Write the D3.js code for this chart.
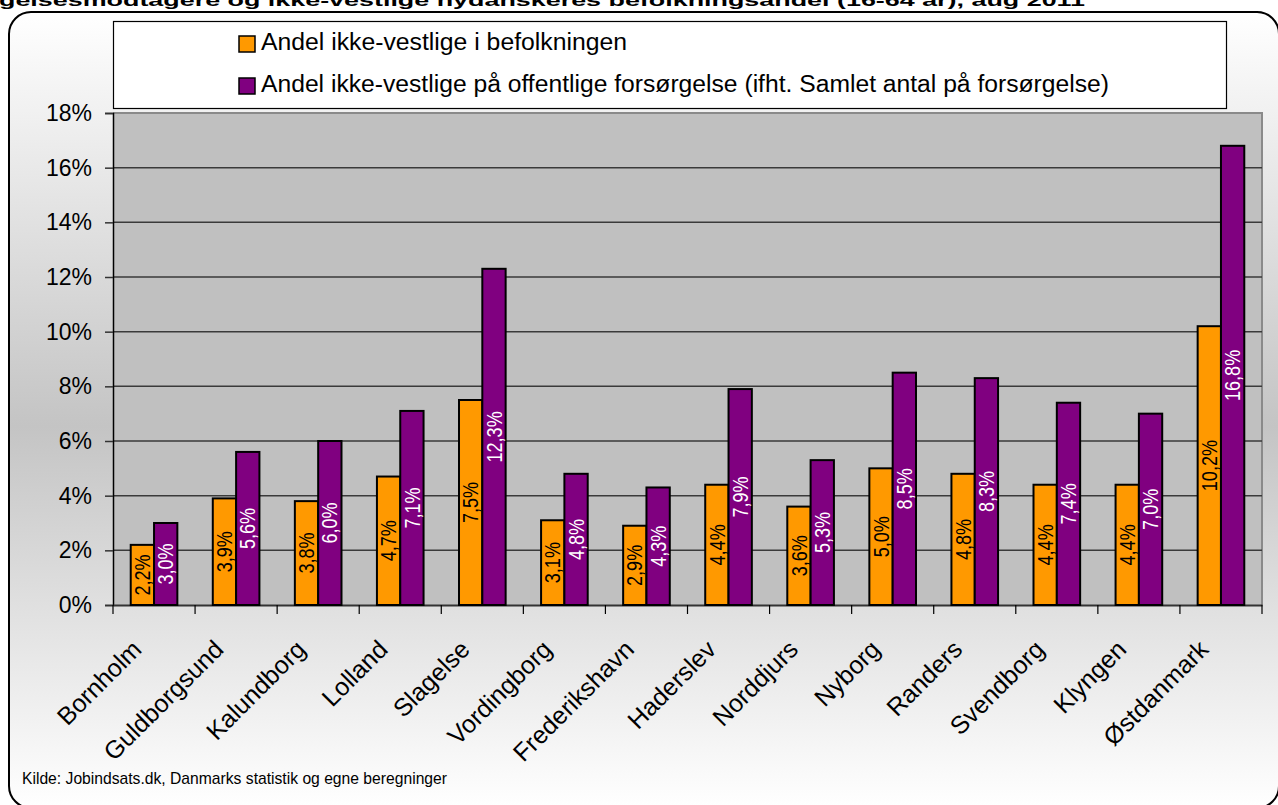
<!DOCTYPE html>
<html>
<head>
<meta charset="utf-8">
<script src="https://cdn.jsdelivr.net/npm/d3@7"></script>
<style>
  body { margin:0; background:#fff; }
  svg { display:block; font-family:"Liberation Sans", Arial, sans-serif; }
</style>
</head>
<body>
<svg id="chart" width="1278" height="805"></svg>
<script>
const categories = ['Bornholm','Guldborgsund','Kalundborg','Lolland','Slagelse','Vordingborg','Frederikshavn','Haderslev','Norddjurs','Nyborg','Randers','Svendborg','Klyngen','Østdanmark'];
const befolkning = [2.2,3.9,3.8,4.7,7.5,3.1,2.9,4.4,3.6,5.0,4.8,4.4,4.4,10.2];
const forsorgelse = [3.0,5.6,6.0,7.1,12.3,4.8,4.3,7.9,5.3,8.5,8.3,7.4,7.0,16.8];
const seriesNames = ['Andel ikke-vestlige i befolkningen','Andel ikke-vestlige på offentlige forsørgelse (ifht. Samlet antal på forsørgelse)'];
const yTicks = [0,2,4,6,8,10,12,14,16,18];
const titleText = 'gelsesmodtagere og ikke-vestlige nydanskeres befolkningsandel (16-64 år), aug 2011';
const sourceText = 'Kilde: Jobindsats.dk, Danmarks statistik og egne beregninger';

const colors = ['#ff9900','#800080'];
const labelColors = ['#000','#fff'];

const svg = d3.select('#chart');
const plot = {left:113, right:1262, top:113, bottom:605};

// background gradient for the chart frame
const defs = svg.append('defs');
const grad = defs.append('linearGradient').attr('id','bg').attr('x1',0).attr('y1',0).attr('x2',0).attr('y2',1);
grad.append('stop').attr('offset','0%').attr('stop-color','#ffffff');
grad.append('stop').attr('offset','52%').attr('stop-color','#c4c4c4');
grad.append('stop').attr('offset','100%').attr('stop-color','#ffffff');

svg.append('rect')
  .attr('x',9).attr('y',12).attr('width',1270).attr('height',796)
  .attr('rx',22).attr('ry',22)
  .attr('fill','url(#bg)').attr('stroke','#000').attr('stroke-width',2);

// title (cut at the top edge, like the original)
svg.append('text')
  .attr('x',-1).attr('y',6)
  .attr('font-size',17).attr('font-weight','bold')
  .attr('textLength',1086).attr('lengthAdjust','spacingAndGlyphs')
  .text(titleText);

const x = d3.scaleBand().domain(categories).range([plot.left, plot.right]).padding(0);
const xs = d3.scaleBand().domain([0,1]).range([0, x.bandwidth()]).paddingInner(0).paddingOuter(0.76);
const y = d3.scaleLinear().domain([0,18]).range([plot.bottom, plot.top]);

// plot area
svg.append('rect')
  .attr('x',plot.left).attr('y',plot.top)
  .attr('width',plot.right-plot.left).attr('height',plot.bottom-plot.top)
  .attr('fill','#c0c0c0');
svg.append('path')
  .attr('d',`M${plot.left},${plot.top}H${plot.right}V${plot.bottom}`)
  .attr('fill','none').attr('stroke','#8a8a8a').attr('stroke-width',2);

// gridlines
svg.append('g').selectAll('line')
  .data(yTicks.filter(d=>d>0 && d<18))
  .join('line')
  .attr('x1',plot.left).attr('x2',plot.right)
  .attr('y1',d=>y(d)).attr('y2',d=>y(d))
  .attr('stroke','#3a3a3a').attr('stroke-width',1.5);

// y axis
const yAxis = svg.append('g')
  .attr('transform',`translate(${plot.left},0)`)
  .call(d3.axisLeft(y).tickValues(yTicks).tickSize(8).tickPadding(13).tickFormat(d=>d+'%'));
yAxis.select('.domain').attr('stroke','#000').attr('stroke-width',1.5);
yAxis.selectAll('.tick line').attr('stroke','#333').attr('stroke-width',1.5);
yAxis.selectAll('.tick text')
  .attr('font-size',23).attr('font-family','"Liberation Sans", Arial, sans-serif').attr('fill','#000');

// x axis
const xAxis = svg.append('g')
  .attr('transform',`translate(0,${plot.bottom})`)
  .call(d3.axisBottom(x).tickSize(0).tickFormat(''));
xAxis.select('.domain').attr('stroke','#333').attr('stroke-width',2);
xAxis.selectAll('.tick').remove();
xAxis.selectAll('line.sep')
  .data(d3.range(categories.length+1))
  .join('line').attr('class','sep')
  .attr('x1',i=>plot.left + i*x.step()).attr('x2',i=>plot.left + i*x.step())
  .attr('y1',0).attr('y2',9)
  .attr('stroke','#000').attr('stroke-width',1.2);

svg.append('g').selectAll('text')
  .data(categories)
  .join('text')
  .attr('transform',d=>`translate(${x(d)+x.bandwidth()/2-11},${plot.bottom+46}) rotate(-45)`)
  .attr('text-anchor','end')
  .attr('font-size',25)
  .text(d=>d);

// bars
const rows = categories.map((c,i)=>({cat:c, vals:[befolkning[i], forsorgelse[i]]}));
const fmt = v => d3.format('.1f')(v).replace('.',',') + '%';

const groups = svg.append('g').selectAll('g')
  .data(rows)
  .join('g')
  .attr('transform',d=>`translate(${x(d.cat)},0)`);

groups.selectAll('rect')
  .data(d=>d.vals.map((v,k)=>({v,k})))
  .join('rect')
  .attr('x',d=>xs(d.k)).attr('width',xs.bandwidth())
  .attr('y',d=>y(d.v)).attr('height',d=>plot.bottom-y(d.v))
  .attr('fill',d=>colors[d.k]).attr('stroke','#000').attr('stroke-width',2);

groups.selectAll('text')
  .data(d=>d.vals.map((v,k)=>({v,k})))
  .join('text')
  .attr('transform',d=>`translate(${xs(d.k)+xs.bandwidth()/2},${(y(d.v)+plot.bottom)/2}) rotate(-90) scale(0.82,1)`)
  .attr('text-anchor','middle')
  .attr('dominant-baseline','central')
  .attr('font-size',22)
  .attr('fill',d=>labelColors[d.k])
  .text(d=>fmt(d.v));

// legend
svg.append('rect')
  .attr('x',113.5).attr('y',21.5).attr('width',1113).attr('height',87)
  .attr('fill','#fff').attr('stroke','#000').attr('stroke-width',1.2);
const legend = svg.append('g').selectAll('g')
  .data(seriesNames)
  .join('g')
  .attr('transform',(d,i)=>`translate(239,${36 + i*42})`);
legend.append('rect')
  .attr('width',16).attr('height',16)
  .attr('fill',(d,i)=>colors[i]).attr('stroke','#000').attr('stroke-width',1.5);
legend.append('text')
  .attr('x',22).attr('y',14)
  .attr('font-size',23)
  .attr('textLength',(d,i)=>i===0?366:848).attr('lengthAdjust','spacingAndGlyphs')
  .text(d=>d);

// source
svg.append('text')
  .attr('x',22).attr('y',784)
  .attr('font-size',17)
  .attr('textLength',425).attr('lengthAdjust','spacingAndGlyphs')
  .text(sourceText);
</script>
</body>
</html>
